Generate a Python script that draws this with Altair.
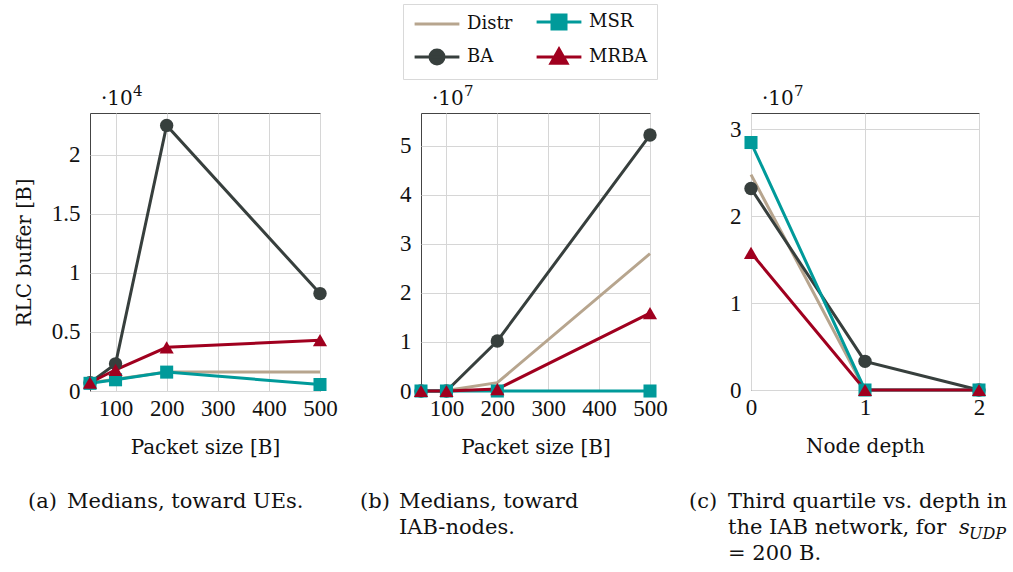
import altair as alt
import pandas as pd

FONT = "DejaVu Serif"
NUMFONT = "Liberation Serif"

series = ["Distr", "BA", "MSR", "MRBA"]
colors = ["#b7a58e", "#373f3d", "#009a9a", "#a0001f"]

# legend symbols: line with the series marker in the middle
legend_paths = [
    "M-3.2,0H3.2",
    "M-3.2,0H3.2M1,0A1,1,0,1,1,-1,0A1,1,0,1,1,1,0Z",
    "M-3.2,0H3.2M-1,-1H1V1H-1Z",
    "M-3.2,0H3.2M0,-1.15L1.15,0.9H-1.15Z",
]

# (a) Medians, toward UEs  -- RLC buffer [B]
sizes = [50, 100, 200, 500]
a_distr = [700, 1000, 1600, 1600]
a_ba = [700, 2300, 22500, 8250]
a_msr = [650, 950, 1600, 550]
a_mrba = [700, 1800, 3700, 4300]

# (b) Medians, toward IAB-nodes
b_distr = [0, 100000, 1700000, 28000000]
b_ba = [0, 0, 10200000, 52200000]
b_msr = [0, 0, 0, 0]
b_mrba = [0, 0, 400000, 15900000]

# (c) Third quartile vs depth
depths = [0, 1, 2]
c_distr = [24800000, 0, 0]
c_ba = [23200000, 3300000, 0]
c_msr = [28500000, 0, 0]
c_mrba = [15800000, 0, 0]

a_yticks = [0, 5000, 10000, 15000, 20000]
b_yticks = [0, 10000000, 20000000, 30000000, 40000000, 50000000]
c_yticks = [0, 10000000, 20000000, 30000000]
size_ticks = [100, 200, 300, 400, 500]
depth_ticks = [0, 1, 2]


def frame(xs, cols):
    rows = []
    for name in series:
        for x, v in zip(xs, cols[name]):
            rows.append({"x": x, "y": v, "series": name})
    return pd.DataFrame(rows)


df_a = frame(sizes, {"Distr": a_distr, "BA": a_ba, "MSR": a_msr, "MRBA": a_mrba})
df_b = frame(sizes, {"Distr": b_distr, "BA": b_ba, "MSR": b_msr, "MRBA": b_mrba})
df_c = frame(depths, {"Distr": c_distr, "BA": c_ba, "MSR": c_msr, "MRBA": c_mrba})

one = alt.Data(values=[{"k": 0}])

# colour scale of the plotted marks (listed in reverse so that its domain
# differs from the legend's scales)
mark_color_scale = alt.Scale(domain=series[::-1], range=colors[::-1])


def text(txt, x, y, size=21, style="normal", line_height=26, font=FONT):
    return alt.Chart(one).mark_text(
        align="left", baseline="alphabetic", font=font, fontSize=size,
        fontStyle=style, color="#111", lineBreak="\n", lineHeight=line_height,
    ).encode(x=alt.value(x), y=alt.value(y), text=alt.value(txt))


def panel(df, xdomain, xvals, xtitle, ydomain, yvals, ydiv, ytitle, width, height,
          exp_power, extra, with_legend=False):
    x = alt.X("x:Q", scale=alt.Scale(domain=xdomain, nice=False, zero=False),
              axis=alt.Axis(values=xvals, title=xtitle, labelExpr="'' + datum.value",
                            labelOverlap=False, labelFlush=False, labelBound=False))
    y = alt.Y("y:Q", scale=alt.Scale(domain=ydomain, nice=False),
              axis=alt.Axis(values=yvals, labelExpr=f"'' + (datum.value / {ydiv})",
                            title=ytitle if ytitle else "", labelOverlap=False,
                            labelFlush=False))
    col = alt.Color("series:N", scale=mark_color_scale, legend=None)
    base = alt.Chart(df)
    lines = base.mark_line(strokeWidth=3).encode(x=x, y=y, color=col)
    layers = [lines]
    for name, shp, sz in [("BA", "circle", 180), ("MSR", "square", 170), ("MRBA", "triangle-up", 200)]:
        layers.append(
            base.transform_filter(f"datum.series == '{name}'")
            .mark_point(filled=True, shape=shp, size=sz, opacity=1)
            .encode(x=x, y=y, color=col)
        )
    if with_legend:
        leg = alt.Legend(
            title=None, orient="none", legendX=313, legendY=-109, columns=2,
            symbolSize=196, symbolStrokeWidth=3, symbolOffset=16,
            labelOffset=21, labelFont=FONT, labelFontSize=18, labelColor="#111",
            strokeColor="#d9d9d9", fillColor="white", padding=9,
            rowPadding=7, columnPadding=17, labelLimit=200,
        )
        lscale = alt.Scale(domain=series, range=colors)
        layers.append(
            base.transform_filter("false")
            .mark_point(filled=True, strokeWidth=3, opacity=1, size=196)
            .encode(
                fill=alt.Fill("series:N", scale=lscale, legend=leg),
                stroke=alt.Stroke("series:N", scale=lscale, legend=leg),
                shape=alt.Shape("series:N", scale=alt.Scale(domain=series, range=legend_paths), legend=leg),
            )
        )
    layers.append(text("·10", 11, -8, size=20))
    layers.append(text(exp_power, 43, -17, size=15))
    layers.extend(extra)
    return alt.layer(*layers).properties(width=width, height=height)


pa = panel(df_a, [50, 500], size_ticks, "Packet size [B]", [0, 23550], a_yticks, 10000,
           "RLC buffer [B]", 230, 278, "4",
           [text("(a)", -62, 395), text("Medians, toward UEs.", -23, 395)])
pb = panel(df_b, [50, 500], size_ticks, "Packet size [B]", [0, 56700000], b_yticks, 10000000,
           None, 229, 278, "7",
           [text("(b)", -61, 395), text("Medians, toward\nIAB-nodes.", -22, 395)],
           with_legend=True)
pc = panel(df_c, [0, 2], depth_ticks, "Node depth", [0, 31900000], c_yticks, 10000000,
           None, 228, 277, "7",
           [text("(c)", -62, 395),
            text("Third quartile vs. depth in\nthe IAB network, for\n= 200 B.", -23, 395),
            text("s", 208, 421, style="italic"),
            text("UDP", 218, 426, size=16, style="italic")])

chart = alt.hconcat(pa, pb, pc, spacing=101, bounds="flush").properties(
    padding={"left": 13, "top": 3, "right": 0, "bottom": 0}
).configure_view(
    stroke="#444", strokeWidth=1
).configure_axis(
    labelFont=NUMFONT, labelFontSize=23, labelColor="#111",
    titleFont=FONT, titleFontSize=20, titleFontWeight="normal", titleColor="#111",
    grid=True, gridColor="#d6d6d6", gridWidth=1,
    domain=False, ticks=False,
).configure_axisX(
    titlePadding=17, labelPadding=6
).configure_axisY(
    titlePadding=17, labelPadding=10
)

chart.save("out.html", embed_options={"renderer": "svg", "actions": False})
